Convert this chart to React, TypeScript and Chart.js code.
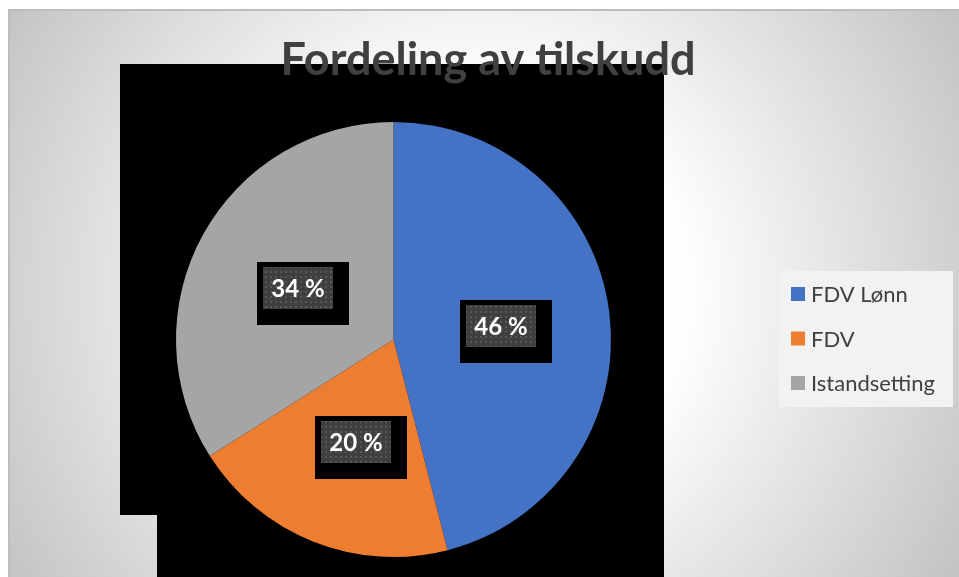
import React, { useEffect, useRef } from "react";
import { Chart, registerables } from "chart.js";

Chart.register(...registerables);

// ---- data ----
const categories = ["FDV Lønn", "FDV", "Istandsetting"];
const shares = [46, 20, 34];
const sliceColors = ["#4472C4", "#ED7D31", "#A5A5A5"];
const titleText = "Fordeling av tilskudd";

// ---- layout / style ----
const W = 951;
const H = 568;
const FONT = 'Lato, "Open Sans", "DejaVu Sans", sans-serif';
const labelNudge = [
  [0, 0],
  [3, 1],
  [0, 1],
];

function makeDotPattern(ctx: CanvasRenderingContext2D) {
  const c = document.createElement("canvas");
  c.width = 5;
  c.height = 5;
  const g = c.getContext("2d")!;
  g.fillStyle = "#3f3f3f";
  g.fillRect(0, 0, 5, 5);
  g.fillStyle = "#575757";
  g.fillRect(2, 2, 2, 2);
  return ctx.createPattern(c, "repeat");
}

const decorPlugin = {
  id: "decor",
  beforeDraw(chart: any) {
    const ctx: CanvasRenderingContext2D = chart.ctx;
    ctx.save();
    const g = ctx.createRadialGradient(472, 282, 0, 472, 282, 560);
    g.addColorStop(0, "#ffffff");
    g.addColorStop(0.38, "#fdfdfd");
    g.addColorStop(1, "#c2c2c2");
    ctx.fillStyle = g;
    ctx.fillRect(0, 0, W, H);
    ctx.fillStyle = "#bdbdbd";
    ctx.fillRect(0, 0, W, 2);
    ctx.fillRect(0, 0, 2, H);
    ctx.fillStyle = "#000000";
    ctx.fillRect(112, 55, 544, 451);
    ctx.fillRect(149, 505, 507, 63);
    ctx.restore();
  },
  afterDatasetsDraw(chart: any) {
    const ctx: CanvasRenderingContext2D = chart.ctx;
    const meta = chart.getDatasetMeta(0);
    const pattern = makeDotPattern(ctx);
    const data = chart.data.datasets[0].data as number[];
    const total = data.reduce((a, b) => a + b, 0);
    ctx.save();
    meta.data.forEach((arc: any, i: number) => {
      const p = arc.getCenterPoint();
      const cx = p.x + labelNudge[i][0];
      const cy = p.y + labelNudge[i][1];
      const iw = 70;
      const ih = 42;
      const ix = Math.round(cx - iw / 2);
      const iy = Math.round(cy - ih / 2);
      ctx.fillStyle = "#000000";
      ctx.fillRect(ix - 6, iy - 5, iw + 22, ih + 21);
      ctx.fillStyle = pattern || "#404040";
      ctx.fillRect(ix, iy, iw, ih);
      ctx.fillStyle = "#ffffff";
      ctx.font = `bold 24px ${FONT}`;
      ctx.textAlign = "center";
      ctx.textBaseline = "middle";
      const pct = Math.round((data[i] / total) * 100);
      ctx.fillText(`${pct} %`, ix + iw / 2, iy + ih / 2 + 1);
    });
    ctx.restore();
  },
  afterDraw(chart: any) {
    const ctx: CanvasRenderingContext2D = chart.ctx;
    ctx.save();
    ctx.fillStyle = "#404040";
    ctx.font = `bold 45px ${FONT}`;
    ctx.textAlign = "center";
    ctx.textBaseline = "alphabetic";
    ctx.fillText(titleText, 480, 66);
    ctx.fillStyle = "#f2f2f2";
    ctx.fillRect(771, 262, 174, 136);
    const labels = chart.data.labels as string[];
    const colors = chart.data.datasets[0].backgroundColor as string[];
    ctx.font = `22px ${FONT}`;
    ctx.textAlign = "left";
    ctx.textBaseline = "middle";
    labels.forEach((lab, i) => {
      const y = 285 + i * 44.5;
      ctx.fillStyle = colors[i];
      ctx.fillRect(783, y - 7, 14, 14);
      ctx.fillStyle = "#404040";
      ctx.fillText(lab, 803, y + 1);
    });
    ctx.restore();
  },
};

export default function App() {
  const ref = useRef<HTMLCanvasElement | null>(null);
  useEffect(() => {
    if (!ref.current) return;
    const chart = new Chart(ref.current, {
      type: "pie",
      data: {
        labels: categories,
        datasets: [
          {
            data: shares,
            backgroundColor: sliceColors,
            borderWidth: 0,
            hoverOffset: 0,
          },
        ],
      },
      options: {
        animation: false,
        responsive: false,
        maintainAspectRatio: false,
        events: [],
        layout: { padding: { top: 113, bottom: 20, left: 168, right: 348 } },
        plugins: {
          legend: { display: false },
          title: { display: false },
          tooltip: { enabled: false },
        },
      },
      plugins: [decorPlugin],
    });
    return () => chart.destroy();
  }, []);
  return (
    <div style={{ position: "fixed", left: 8, top: 9, width: W, height: H }}>
      <canvas ref={ref} width={W} height={H} style={{ width: W, height: H, display: "block" }} />
    </div>
  );
}
